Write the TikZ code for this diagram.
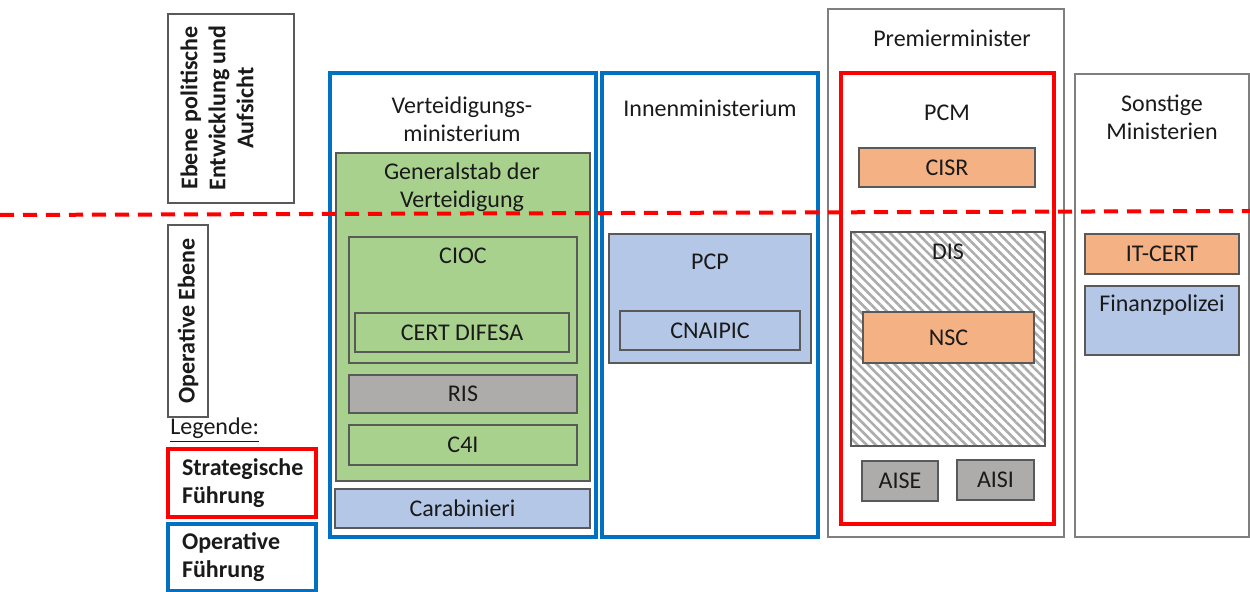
\documentclass[tikz,border=0pt]{standalone}
\usepackage{fontspec}
\setmainfont{Carlito}
\usepackage{tikz}
\usetikzlibrary{fit}
\usetikzlibrary{patterns.meta}
\definecolor{gruen}{HTML}{A9D18E}
\definecolor{grau}{HTML}{AEABAB}
\definecolor{orange}{HTML}{F4B183}
\definecolor{hblau}{HTML}{B4C7E7}
\definecolor{blau}{HTML}{0070C0}
\definecolor{rot}{HTML}{FF0000}
\definecolor{rand}{HTML}{595959}
\definecolor{grand}{HTML}{7F7F7F}
\definecolor{schrift}{HTML}{1A1A1A}
\tikzset{
  box/.style={draw=rand, line width=0.6pt, inner sep=0pt},
  blaurahmen/.style={draw=blau, line width=1.6pt, inner sep=0pt},
  rotrahmen/.style={draw=rot, line width=1.6pt, inner sep=0pt},
  graurahmen/.style={draw=grand, line width=0.8pt, inner sep=0pt},
  titel/.style={align=center},
  fett/.style={font=\fontsize{12}{14}\selectfont\bfseries},
  schraffur/.style={pattern={Lines[angle=-45, distance=3.2pt, line width=1.3pt]}, pattern color=gray!65},
  trennlinie/.style={draw=rot, line width=2pt, dash pattern=on 7pt off 4.5pt}
}

\begin{document}
\begin{tikzpicture}[x=0.5pt, y=-0.5pt, every node/.style={font=\fontsize{12}{14}\selectfont, text=schrift}]
\useasboundingbox (0,0) rectangle (1250,592);

\node[box, fit={(168,14) (294,203)}] (politisch) {};
\node[rotate=90, titel, fett] (politischtxt) at (217,108) {Ebene politische\\Entwicklung und\\Aufsicht};
\node[box, fit={(168,225) (208,417)}] (operativ) {};
\node[rotate=90, fett] (operativtxt) at (operativ.center) {Operative Ebene};

\node[anchor=west, inner sep=1pt] (legende) at (168,430) {\underline{Legende:}};
\node[rotrahmen, fit={(168,449) (316,517)}] (strategisch) {};
\node[anchor=west, align=left, fett] (strategischtxt) at (175,483) {Strategische\\Führung};
\node[blaurahmen, fit={(168,524) (316,591)}] (opfuehrung) {};
\node[anchor=west, align=left, fett] (opfuehrungtxt) at (175,557) {Operative\\Führung};

\node[blaurahmen, fit={(330,73) (596,537)}] (verteidigung) {};
\node[titel] (verteidigungtxt) at (462,119) {Verteidigungs-\\ministerium};
\node[box, fill=gruen, fit={(336,153) (590,481)}] (generalstab) {};
\node[titel] (generalstabtxt) at (462,187) {Generalstab der\\Verteidigung};
\node[box, fill=gruen, fit={(349,237) (577,363)}] (cioc) {};
\node (cioctxt) at (463,256) {CIOC};

\node[blaurahmen, fit={(602,73) (818,537)}] (innen) {};
\node (innentxt) at (710,108) {Innenministerium};
\node[box, fill=hblau, fit={(609,234) (811,363)}] (pcp) {};
\node (pcptxt) at (710,262) {PCP};

\node[graurahmen, fit={(828,9) (1064,537)}] (premier) {};
\node (premiertxt) at (952,38) {Premierminister};
\node[rotrahmen, fit={(841,73) (1054,524)}] (pcm) {};
\node (pcmtxt) at (947,113) {PCM};
\node[box, schraffur, fit={(851,232) (1045,446)}] (dis) {};
\node (distxt) at (948,252) {DIS};

\node[graurahmen, fit={(1075,74) (1249,537)}] (sonstige) {};
\node[titel] (sonstigetxt) at (1162,117) {Sonstige\\Ministerien};
\node[box, fill=hblau, fit={(1085,286) (1239,355)}] (finanz) {};
\node (finanztxt) at (1162,305) {Finanzpolizei};

\foreach \name/\xa/\ya/\xb/\yb/\farbe/\txt in {
  certdifesa/355/313/569/352/gruen/CERT DIFESA,
  ris/349/375/577/413/grau/RIS,
  cfouri/349/425/577/465/gruen/C4I,
  carabinieri/335/489/590/528/hblau/Carabinieri,
  cnaipic/620/311/800/350/hblau/CNAIPIC,
  cisr/859/148/1035/187/orange/CISR,
  nsc/863/312/1034/363/orange/NSC,
  aise/862/461/938/501/grau/AISE,
  aisi/957/460/1034/500/grau/AISI,
  itcert/1085/234/1239/274/orange/IT-CERT} {
  \node[box, fill=\farbe, fit={(\xa,\ya) (\xb,\yb)}] (\name) {};
  \node (\name txt) at (\name.center) {\txt};
}

\coordinate (linielinks) at (0,215);
\coordinate (linierechts) at (1250,211);
\draw[trennlinie] (linielinks) -- (linierechts);
\end{tikzpicture}
\end{document}
